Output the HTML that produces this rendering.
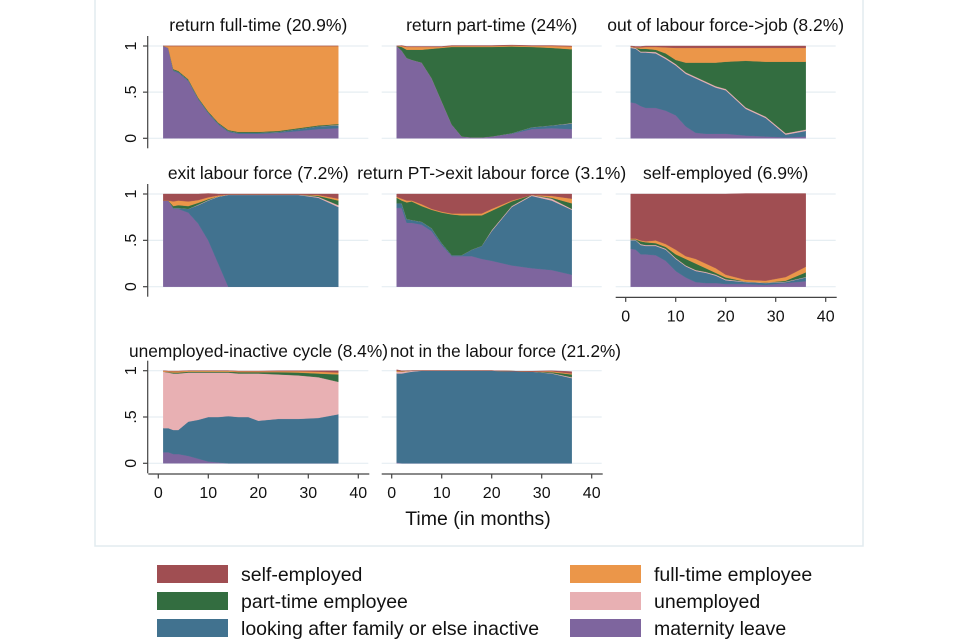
<!DOCTYPE html>
<html><head><meta charset="utf-8"><style>
body{margin:0;background:#fff;}
svg{display:block;font-family:"Liberation Sans",Arial,sans-serif;}
</style></head><body>
<svg id="c" width="960" height="640" viewBox="0 0 960 640"></svg>
<script>
const months = [1,2,3,4,6,8,10,12,14,16,18,20,24,28,32,36];
const panelTitles = ["return full-time (20.9%)","return part-time (24%)","out of labour force->job (8.2%)","exit labour force (7.2%)","return PT->exit labour force (3.1%)","self-employed (6.9%)","unemployed-inactive cycle (8.4%)","not in the labour force (21.2%)"];
const xTicks = [0,10,20,30,40];
const yTicks = [0,0.5,1];
const yTickLabels = ["0",".5","1"];
const seriesNames = ["maternity leave","looking after family or else inactive","unemployed","part-time employee","full-time employee","self-employed"];
const maternity = [
 [1.0,0.98,0.73,0.71,0.62,0.42,0.27,0.15,0.07,0.05,0.05,0.05,0.06,0.08,0.1,0.11],
 [1.0,0.95,0.87,0.85,0.82,0.65,0.4,0.15,0.02,0.01,0.01,0.02,0.05,0.1,0.11,0.1],
 [.39,.38,.35,.33,.33,.3,.25,.13,.06,.05,.05,.05,.03,.02,.01,.02],
 [.93,.93,.84,.84,.8,.68,.5,.25,0,0,0,0,0,0,0,0],
 [.85,.85,.69,.69,.67,.6,.45,.33,.33,.33,.3,.28,.23,.2,.18,.13],
 [.41,.4,.35,.35,.34,.28,.17,.1,.05,.04,.04,.03,.03,.02,.04,.06],
 [.12,.12,.1,.1,.08,.05,.02,.01,0,0,0,0,0,0,0,0],
 [.01,0,0,0,0,0,0,0,0,0,0,0,0,0,0,0]
];
const lookingAfter = [
 [0,0,.01,.01,.01,.01,.01,.01,.01,.01,.01,.01,.01,.02,.03,.03],
 [0,0,0,0,0,0,0,0,0,0,0,0,.005,.02,.03,.06],
 [.59,.59,.58,.6,.59,.56,.54,.57,.59,.55,.5,.47,.29,.2,.03,.06],
 [0,0,.01,.01,.04,.2,.43,.72,.99,.99,.99,.99,.99,.99,.96,.86],
 [.05,.05,.04,.03,.03,.03,.02,.01,.01,.07,.14,.32,.63,.78,.75,.7],
 [.09,.1,.1,.09,.1,.12,.13,.12,.12,.11,.08,.04,.02,.02,.01,.04],
 [.26,.26,.26,.26,.37,.42,.48,.49,.51,.5,.5,.46,.48,.48,.49,.53],
 [.96,.97,.98,.99,1,1,1,1,1,1,1,1,.995,.99,.97,.92]
];
const unemployed = [
 [0,0,0,0,0,0,0,0,0,0,0,0,0,0,0,.005],
 [0,0,0,0,0,0,0,0,0,0,0,0,0,0,0,.005],
 [.01,.01,.01,.01,.015,.015,.015,.015,.015,.015,.015,.015,.015,.015,.015,.015],
 [0,0,0,0,0,.005,.005,.005,.005,.005,.005,.005,.005,.005,.01,.02],
 [0,0,0,0,0,0,0,0,0,0,0,.01,.01,.01,.02,.01],
 [.005,.005,.01,.01,.01,.01,.01,.01,.01,.01,.01,.01,.005,.005,.005,.005],
 [.61,.6,.61,.61,.53,.51,.48,.48,.47,.47,.47,.51,.48,.47,.44,.35],
 [.02,.02,.015,.01,0,0,0,0,0,0,0,0,0,0,.005,.01]
];
const partTime = [
 [0,0,.01,.01,.01,.01,.01,.01,.01,.01,.01,.01,.01,.01,.01,.01],
 [0,.04,.09,.11,.14,.32,.58,.84,.97,.98,.98,.97,.94,.87,.84,.8],
 [0,0,.03,.03,.025,.045,.045,.105,.155,.205,.255,.295,.505,.595,.775,.735],
 [0,0,.02,.03,.03,.02,.01,0,0,0,0,0,0,0,.01,.05],
 [.06,.03,.18,.2,.17,.2,.33,.44,.43,.37,.33,.21,.05,0,.01,.06],
 [.005,.005,.03,.03,.02,.02,.04,.07,.07,.04,.02,.02,0,0,.01,.05],
 [0,.005,.01,.01,.01,.01,.01,.01,.01,.015,.015,.015,.025,.03,.04,.08],
 [0,0,0,0,0,0,0,0,0,0,0,0,0,0,.01,.03]
];
const fullTime = [
 [0,.02,.25,.27,.36,.56,.71,.83,.91,.93,.93,.93,.92,.89,.86,.845],
 [0,.01,.03,.03,.03,.02,.01,.01,.01,.01,.01,.01,.01,.01,.02,.03],
 [.005,.005,.015,.02,.03,.065,.13,.16,.16,.16,.16,.15,.14,.15,.15,.15],
 [0,0,.05,.05,.05,.03,.02,.01,0,0,0,0,0,0,.01,.02],
 [.01,.02,.02,.01,.02,.01,.01,.01,.02,.02,.02,.02,.01,0,.02,.05],
 [.01,.01,.01,.01,.03,.03,.05,.03,.05,.05,.05,.03,.02,.02,.04,.06],
 [.01,.01,.015,.015,.01,.01,.01,.01,.01,.01,.01,.01,.01,.015,.02,.02],
 [.01,.005,.005,0,0,0,0,0,0,0,0,0,0,0,.01,.01]
];
const selfEmployed = [
 [0,0,0,0,0,0,0,0,0,0,0,0,0,0,0,0],
 [0,.005,.005,.005,.005,.005,.005,.005,.005,.005,.005,.005,.005,.005,.005,.005],
 [.005,.01,.01,.01,.01,.015,.02,.02,.02,.02,.02,.02,.02,.02,.02,.02],
 [.07,.07,.08,.07,.08,.065,.04,.015,.005,.005,.005,.005,.005,.005,.01,.05],
 [.03,.05,.07,.07,.11,.16,.19,.21,.21,.21,.21,.16,.07,.01,.02,.05],
 [.48,.48,.5,.51,.5,.54,.6,.67,.7,.75,.8,.87,.93,.94,.9,.79],
 [0,0,0,0,0,0,0,0,0,0,0,0,.005,.005,.01,.02],
 [.01,.005,0,0,0,0,0,0,0,0,0,0,0,.005,.005,.02]
];
const colors = ["#7e659e","#41728f","#e8b0b3","#336d40","#eb9649","#a04e52"];
const series = [maternity,lookingAfter,unemployed,partTime,fullTime,selfEmployed];
const seriesKeys = ["maternity","looking-after","unemployed","part-time","full-time","self-employed"];

const NS="http://www.w3.org/2000/svg";
const svg=document.getElementById('c');
function mk(tag,attrs,parent){const e=document.createElementNS(NS,tag);for(const k in attrs)e.setAttribute(k,attrs[k]);(parent||svg).appendChild(e);return e;}

const colX0=[158.3,391.7,625.7], pxM=5.0;
const rowY1=[46,194,370.7], rowY0=[138.3,286.7,463.3];

const frame=mk('rect',{x:95,y:-2,width:768,height:548,fill:'none',stroke:'#e2ebef','stroke-width':1.5});



for(let p=0;p<8;p++){
  const r=Math.floor(p/3), c=p%3;
  const xs=m=>colX0[c]+m*pxM;
  const ys=v=>rowY0[r]-v*(rowY0[r]-rowY1[r]);
  const g=mk('g',{});
  
  
  yTicks.forEach(t=>{const gl=mk('line',{x1:xs(0)-10,x2:xs(0)+210,y1:ys(t),y2:ys(t),stroke:'#e6eef2','stroke-width':1.2},g);
    
    });
  let base=months.map(()=>0);
  series.forEach((s,si)=>{
    const top=base.map((b,i)=>b+s[p][i]);
    let d='M'+months.map((m,i)=>xs(m).toFixed(2)+','+ys(top[i]).toFixed(2)).join('L');
    for(let i=months.length-1;i>=0;i--) d+='L'+xs(months[i]).toFixed(2)+','+ys(base[i]).toFixed(2);
    const a=mk('path',{d:d+'Z',fill:colors[si],stroke:colors[si],'stroke-width':0.4},g);
    
    
    base=top;
  });
  let tattrs={x:xs(20),y:[31,179,357][r],'text-anchor':'middle','font-size':17.5,fill:'#111'};
  if(p===6) tattrs={x:129,y:357,'text-anchor':'start','font-size':17.5,fill:'#111',textLength:259,lengthAdjust:'spacingAndGlyphs'};
  if(p===7) tattrs={x:390,y:357,'text-anchor':'start','font-size':17.5,fill:'#111',textLength:231,lengthAdjust:'spacingAndGlyphs'};
  const t=mk('text',tattrs,g);
  t.textContent=panelTitles[p];
  
  
  if(c===0){
    const ax=mk('line',{x1:147.7,x2:147.7,y1:rowY1[r]-10,y2:rowY0[r]+10,stroke:'#444','stroke-width':1.2},g);
    
    
    yTicks.forEach((tv,i)=>{
      mk('line',{x1:143,x2:147.7,y1:ys(tv),y2:ys(tv),stroke:'#444','stroke-width':1.2},g);
      const lb=mk('text',{x:0,y:0,transform:`translate(136,${ys(tv)}) rotate(-90)`,'text-anchor':'middle','font-size':16,fill:'#111'},g);
      lb.textContent=yTickLabels[i];
      
      
    });
  }
  if(r===2 || p===5){
    const yA=rowY0[r]+10.7;
    const xa=mk('line',{x1:xs(0)-10,x2:xs(0)+211,y1:yA,y2:yA,stroke:'#444','stroke-width':1.2},g);
    
    
    xTicks.forEach(tv=>{
      mk('line',{x1:xs(tv),x2:xs(tv),y1:yA,y2:yA+4.5,stroke:'#444','stroke-width':1.2},g);
      const lb=mk('text',{x:xs(tv),y:yA+24,'text-anchor':'middle','font-size':16,fill:'#111'},g);
      lb.textContent=tv;
      
      
    });
  }
}
const xt=mk('text',{x:478,y:525,'text-anchor':'middle','font-size':19.5,fill:'#111'});
xt.textContent='Time (in months)';



const legendOrder=[5,4,3,2,1,0];
legendOrder.forEach((si,k)=>{
  const col=k%2,row=Math.floor(k/2);
  const x=col?570:157, cy=574+row*27;
  const g=mk('g',{});
  
  
  mk('rect',{x:x,y:cy-9,width:71,height:18,fill:colors[si]},g);
  const t=mk('text',{x:x+84,y:cy+7,'font-size':19.5,fill:'#111'},g);
  t.textContent=seriesNames[si];
});
</script>
</body></html>
